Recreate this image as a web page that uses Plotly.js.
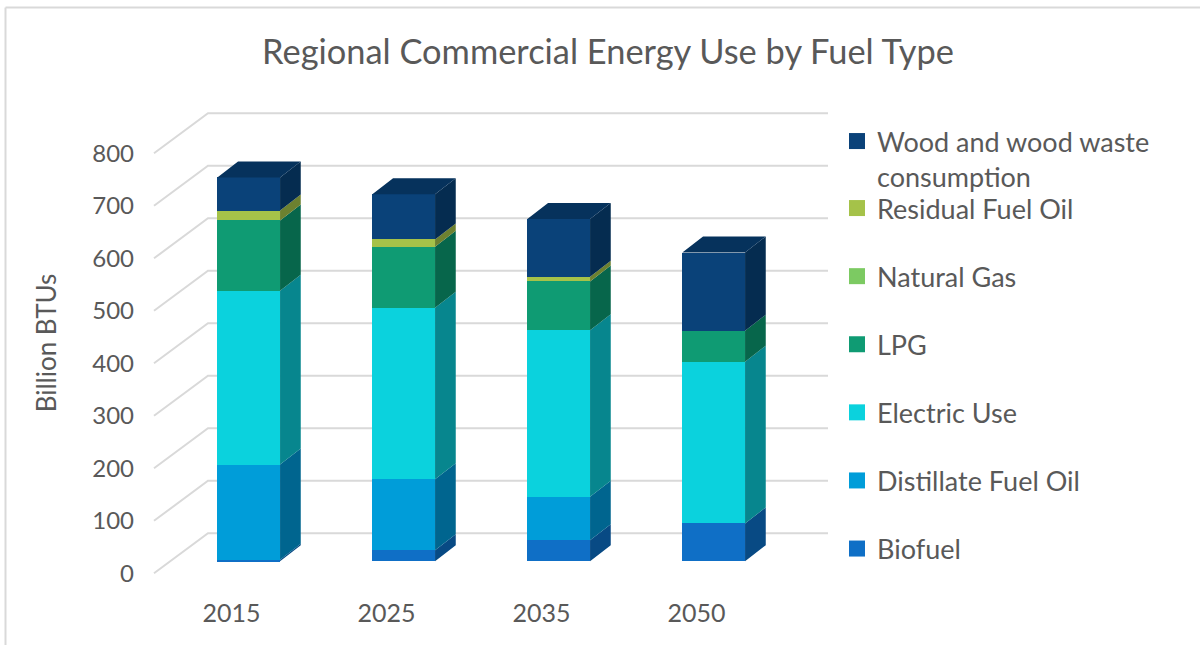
<!DOCTYPE html>
<html><head><meta charset="utf-8">
<script src="https://cdn.plot.ly/plotly-3.0.1.min.js"></script>
<style>html,body{margin:0;padding:0;background:#fff}#c{width:1200px;height:645px}</style>
</head><body><div id="c"></div>
<script>
const categories = ["2015","2025","2035","2050"];
const biofuel    = [3, 21, 40, 72];
const distillate = [181, 135, 83, 0];
const electric   = [331, 327, 317, 308];
const lpg        = [134, 116, 93, 59];
const naturalGas = [0, 0, 0, 0];
const residual   = [19, 14, 9, 0];
const wood       = [63, 86, 110, 149];
const tickValues = [0,100,200,300,400,500,600,700,800];

const seriesList = [
  {name:"Biofuel", v:biofuel, c:"#0F6FC6", s:"#084A84"},
  {name:"Distillate Fuel Oil", v:distillate, c:"#009DD9", s:"#00658F"},
  {name:"Electric Use", v:electric, c:"#0BD2DD", s:"#07868E"},
  {name:"LPG", v:lpg, c:"#0F9B73", s:"#07664B"},
  {name:"Natural Gas", v:naturalGas, c:"#7CCA62", s:"#4F8A3C"},
  {name:"Residual Fuel Oil", v:residual, c:"#A5C249", s:"#6D8130"},
  {name:"Wood and wood waste<br>consumption", v:wood, c:"#0A4279", s:"#052C50"}
];
const topColor = "#06325C";

// geometry of the pseudo-3D projection
const W=1200,H=645, L=135,R=840,T=90,B=596;
const catPx=155, cat0Px=231.5, pxPerUnit=0.525, zeroFrontPx=573.3, zeroBarPx=561.2;
const xRange=[(L-cat0Px)/catPx,(R-cat0Px)/catPx];
const yRange=[(zeroFrontPx-B)/pxPerUnit,(zeroFrontPx-T)/pxPerUnit];
const y2Range=[(zeroBarPx-B)/pxPerUnit,(zeroBarPx-T)/pxPerUnit];
const wallDX=54/catPx, wallDY=40/pxPerUnit;
const barShift=17.2/catPx, barW=62.7/catPx, depthDX=20.7/catPx, depthDY=16/pxPerUnit;

const traces=[];
// grid: floor-to-wall lines
const gx=[],gy=[];
tickValues.forEach(v=>{gx.push(-0.5,-0.5+wallDX,-0.5+wallDX+categories.length,null);gy.push(v,v+wallDY,v+wallDY,null);});
traces.push({type:"scatter",mode:"lines",x:gx,y:gy,line:{color:"#D9D9D9",width:2},showlegend:false,hoverinfo:"skip"});

const xs=categories.map((_,i)=>i+barShift);
const totals=categories.map(()=>0);
seriesList.forEach(s=>{
  traces.push({type:"bar",name:s.name,x:xs,y:s.v,width:barW,yaxis:"y2",marker:{color:s.c,line:{width:0}},showlegend:false});
});
seriesList.forEach(s=>{
  const px=[],py=[];
  s.v.forEach((v,i)=>{
    const b=totals[i],t=b+v; totals[i]=t;
    if(v<=0) return;
    const xr=xs[i]+barW/2;
    px.push(xr,xr+depthDX,xr+depthDX,xr,xr,null);
    py.push(b,b+depthDY,t+depthDY,t,b,null);
  });
  traces.push({type:"scatter",mode:"lines",x:px,y:py,yaxis:"y2",fill:"toself",fillcolor:s.s,line:{width:0,color:s.s},showlegend:false,hoverinfo:"skip"});
});
// top faces
const tx=[],ty=[];
totals.forEach((t,i)=>{
  const xl=xs[i]-barW/2,xr=xs[i]+barW/2;
  tx.push(xl,xl+depthDX,xr+depthDX,xr,xl,null);
  ty.push(t,t+depthDY,t+depthDY,t,t,null);
});
traces.push({type:"scatter",mode:"lines",x:tx,y:ty,yaxis:"y2",fill:"toself",fillcolor:topColor,line:{width:0,color:topColor},showlegend:false,hoverinfo:"skip"});
// legend entries (square swatches), top to bottom
seriesList.slice().reverse().forEach((s,i)=>{
  traces.push({type:"scatter",mode:"markers",x:[null],y:[null],name:s.name,legendgroup:s.name,
    legend:i===0?"legend":"legend2",marker:{symbol:"square",size:17,color:s.c},hoverinfo:"skip"});
});

const txt="#595959", font="Lato, 'Open Sans', sans-serif";
const border=[
  {x0:5.5,y0:645,x1:5.5,y1:7.5},
  {x0:5.5,y0:7.5,x1:1200,y1:7.5}
].map(p=>({type:"line",xref:"paper",yref:"paper",
  x0:(p.x0-L)/(R-L),x1:(p.x1-L)/(R-L),y0:(B-p.y0)/(B-T),y1:(B-p.y1)/(B-T),
  line:{color:"#D9D9D9",width:2}}));

const layout={
  width:W,height:H,margin:{l:L,r:W-R,t:T,b:H-B,pad:0,autoexpand:false},
  paper_bgcolor:"#fff",plot_bgcolor:"rgba(0,0,0,0)",barmode:"stack",
  font:{family:font,color:txt},
  title:{text:"Regional Commercial Energy Use by Fuel Type",x:608/W,xanchor:"center",y:1-52/H,yanchor:"middle",font:{size:34.4,color:txt,family:font}},
  xaxis:{range:xRange,tickmode:"array",tickvals:categories.map((_,i)=>i),ticktext:categories,showgrid:false,zeroline:false,showline:false,ticks:"",tickfont:{size:25,color:txt},fixedrange:true},
  yaxis:{range:yRange,tickmode:"array",tickvals:tickValues,showgrid:false,zeroline:false,showline:false,ticks:"",tickfont:{size:24,color:txt},fixedrange:true,
    title:{text:"Billion BTUs",font:{size:26,color:txt},standoff:28}},
  yaxis2:{range:y2Range,overlaying:"y",visible:false,fixedrange:true},
  legend:{xref:"container",yref:"container",x:837/W,y:1-117/H,xanchor:"left",yanchor:"top",valign:"top",font:{size:27,color:txt},bgcolor:"rgba(0,0,0,0)",itemclick:false,itemdoubleclick:false},
  legend2:{xref:"container",yref:"container",x:837/W,y:1-184/H,xanchor:"left",yanchor:"top",maxheight:620,font:{size:27,color:txt},bgcolor:"rgba(0,0,0,0)",tracegroupgap:30,traceorder:"grouped",itemclick:false,itemdoubleclick:false},
  shapes:border
};
Plotly.newPlot("c",traces,layout,{displayModeBar:false,responsive:false});
</script></body></html>
